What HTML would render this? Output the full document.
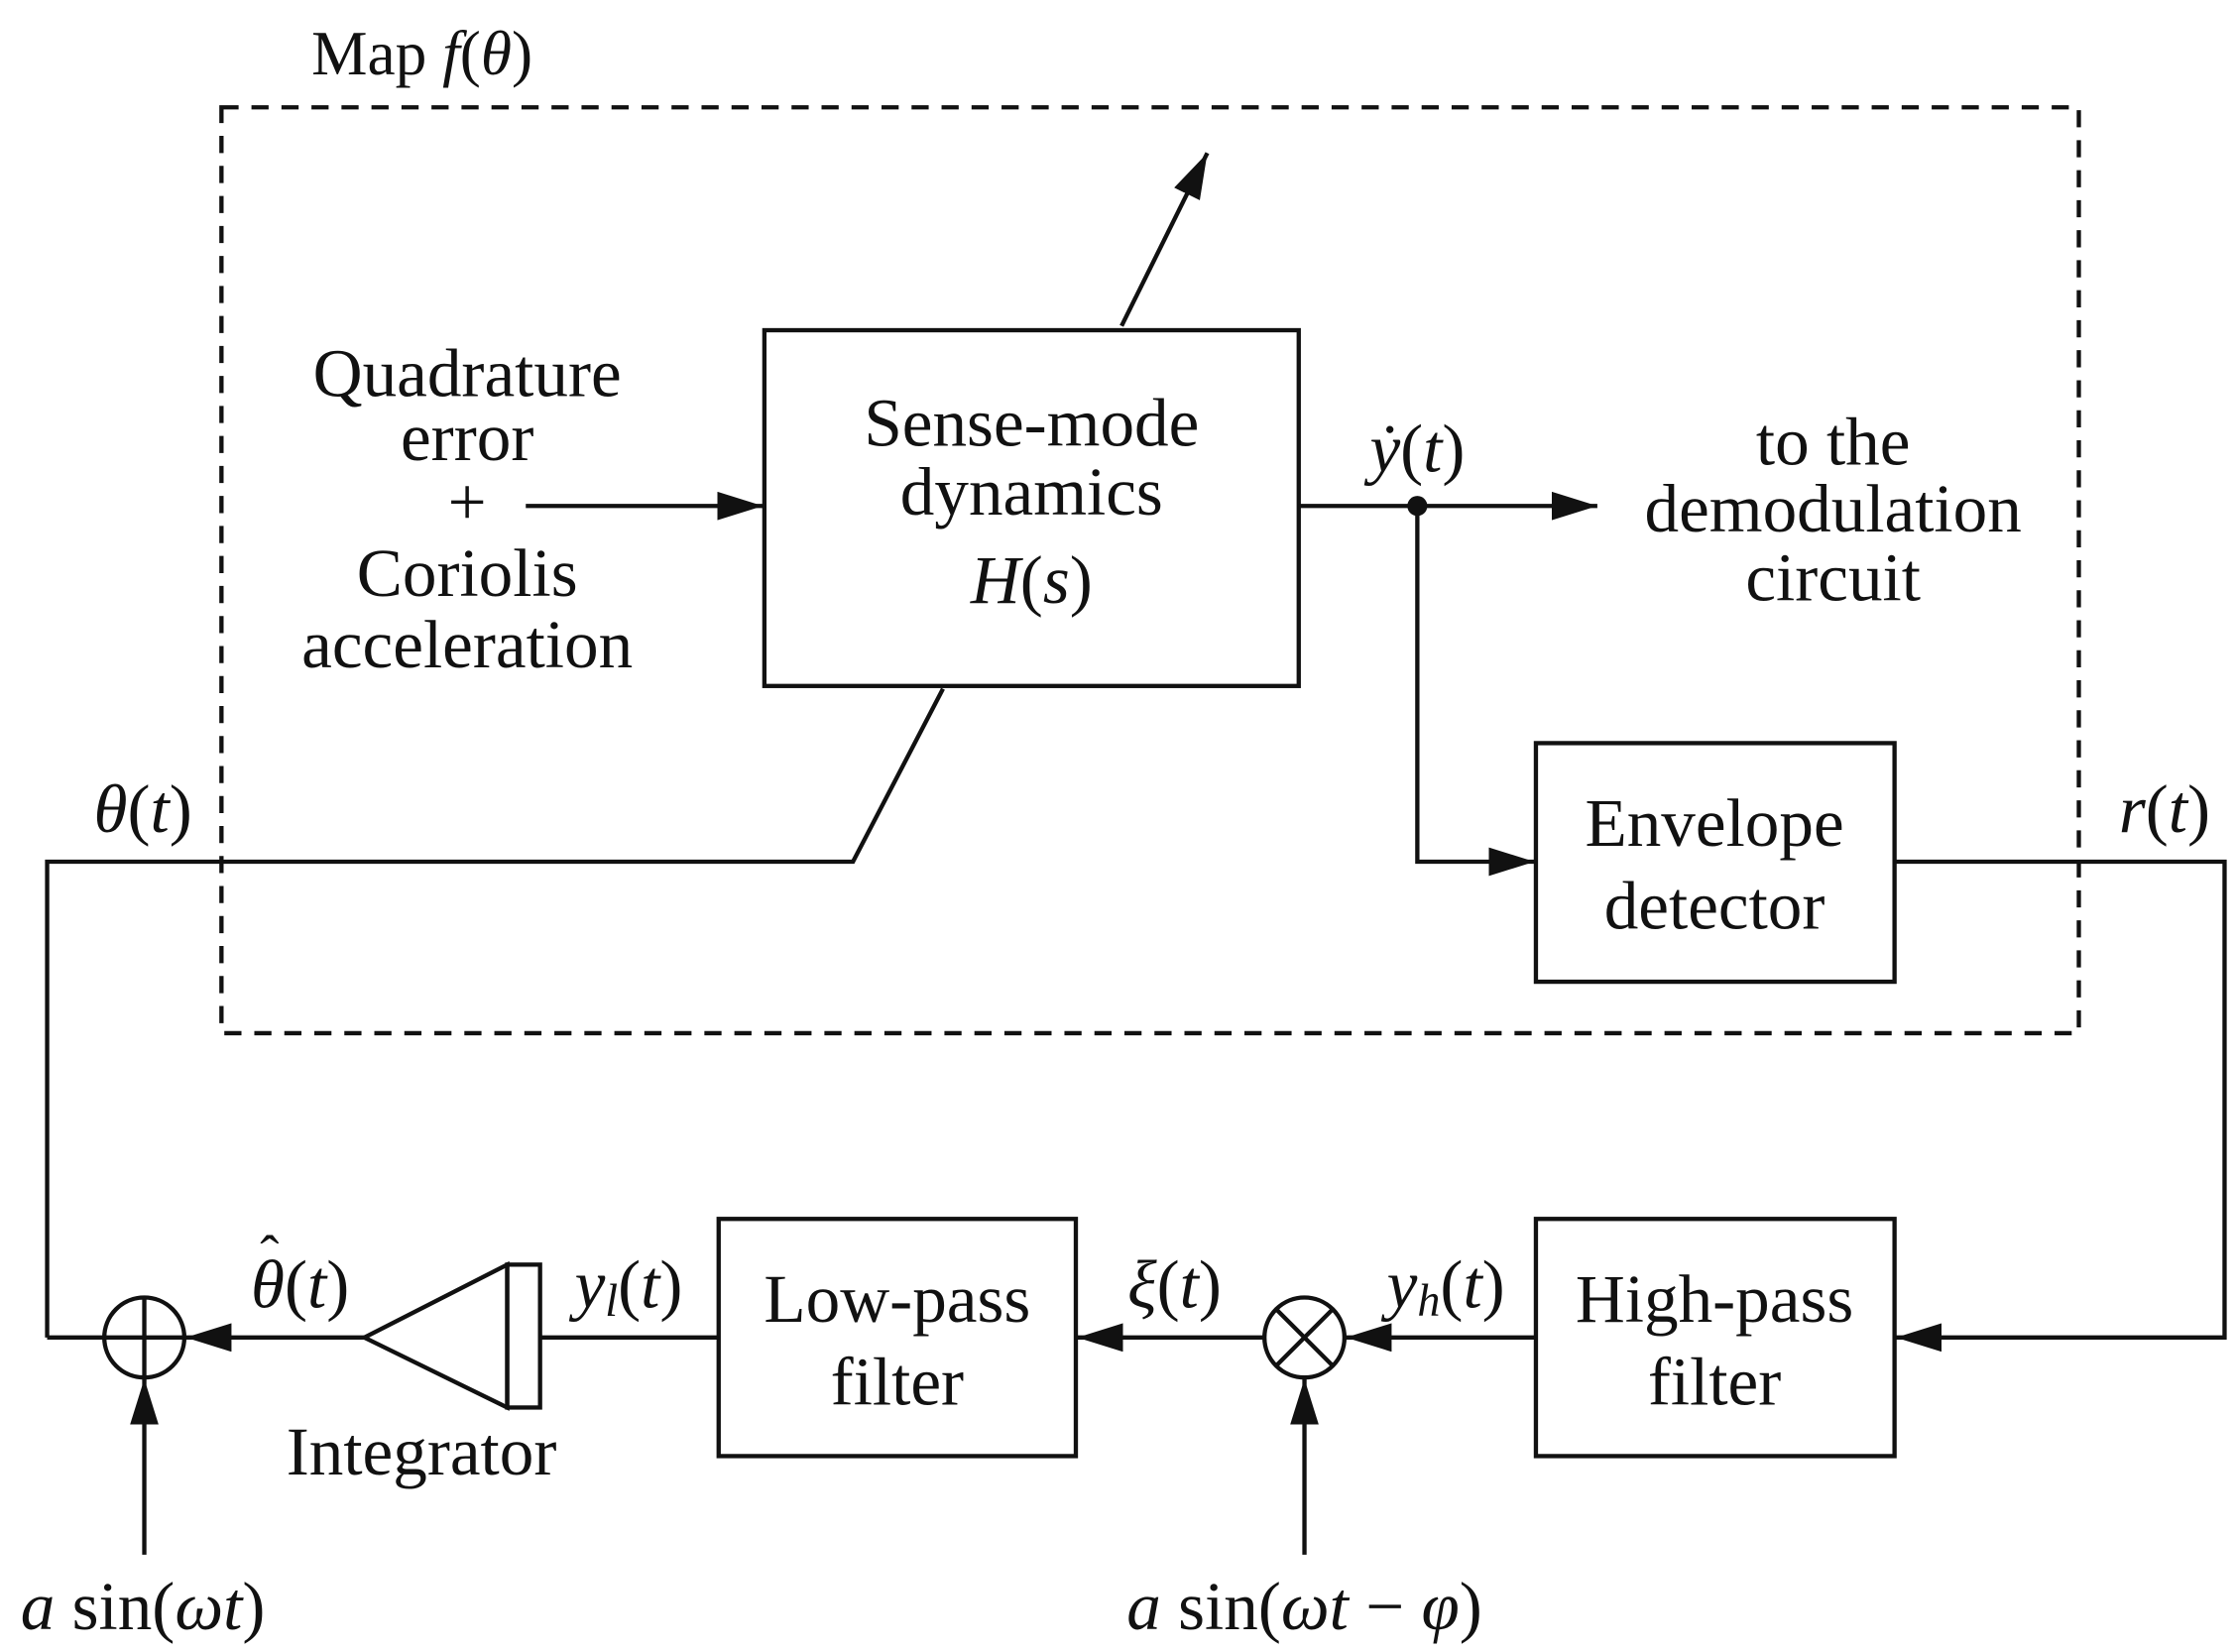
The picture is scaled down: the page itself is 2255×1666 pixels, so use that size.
<!DOCTYPE html>
<html><head><meta charset="utf-8"><style>
html,body{margin:0;padding:0;background:#fff;}
svg{display:block;}
text{font-family:"Liberation Serif",serif;fill:#111;}
.t{font-size:48px;text-anchor:middle;}
.i{font-style:italic;}
</style></head><body>
<svg width="2255" height="1666" viewBox="0 0 1565 1156" xmlns="http://www.w3.org/2000/svg">
<defs>
<marker id="b" viewBox="0 0 10 10" refX="10" refY="5" markerWidth="32" markerHeight="20" markerUnits="userSpaceOnUse" orient="auto" preserveAspectRatio="none">
<path d="M0,0 L10,5 L0,10 z" fill="#111"/></marker>
</defs>
<g stroke="#111" stroke-width="3" fill="none">
<rect x="155" y="75" width="1300" height="648" stroke-dasharray="12,9"/>
<rect x="535" y="231" width="374" height="249"/>
<rect x="1075" y="520" width="251" height="167"/>
<rect x="1075" y="853" width="251" height="166"/>
<rect x="503" y="853" width="250" height="166"/>
<line x1="785" y1="228" x2="845" y2="107" marker-end="url(#b)"/>
<polyline points="33,936 33,603 597,603 660,482"/>
<line x1="368" y1="354" x2="534" y2="354" marker-end="url(#b)"/>
<line x1="909" y1="354" x2="1118" y2="354" marker-end="url(#b)"/>
<polyline points="992,354 992,603 1074,603" marker-end="url(#b)"/>
<polyline points="1326,603 1557,603 1557,936 1327,936" marker-end="url(#b)"/>
<line x1="1075" y1="936" x2="942" y2="936" marker-end="url(#b)"/>
<circle cx="913" cy="936" r="28"/>
<line x1="893" y1="916" x2="933" y2="956"/><line x1="933" y1="916" x2="893" y2="956"/>
<line x1="913" y1="1088" x2="913" y2="965" marker-end="url(#b)"/>
<line x1="885" y1="936" x2="754" y2="936" marker-end="url(#b)"/>
<line x1="503" y1="936" x2="378" y2="936"/>
<rect x="355" y="885" width="23" height="100"/>
<polygon points="355,885 355,985 255,936"/>
<line x1="255" y1="936" x2="130" y2="936" marker-end="url(#b)"/>
<line x1="33" y1="936" x2="73" y2="936"/>
<circle cx="101" cy="936" r="28"/>
<line x1="73" y1="936" x2="129" y2="936"/><line x1="101" y1="908" x2="101" y2="964"/>
<line x1="101" y1="1088" x2="101" y2="965" marker-end="url(#b)"/>
</g>
<circle cx="992" cy="354" r="7" fill="#111"/>
<text x="218" y="52" style="font-size:44px">Map <tspan class="i">f</tspan>(<tspan class="i">θ</tspan>)</text>
<text class="t" x="722" y="312">Sense-mode</text>
<text class="t" x="722" y="360">dynamics</text>
<text class="t" x="722" y="422"><tspan class="i">H</tspan>(<tspan class="i">s</tspan>)</text>
<text class="t" x="327" y="277">Quadrature</text>
<text class="t" x="327" y="322">error</text>
<text class="t" x="327" y="367">+</text>
<text class="t" x="327" y="417">Coriolis</text>
<text class="t" x="327" y="467">acceleration</text>
<text class="t" x="992" y="330"><tspan class="i">ẏ</tspan>(<tspan class="i">t</tspan>)</text>
<text class="t" x="1283" y="325">to the</text>
<text class="t" x="1283" y="372">demodulation</text>
<text class="t" x="1283" y="420">circuit</text>
<text class="t" x="1200" y="592">Envelope</text>
<text class="t" x="1200" y="650">detector</text>
<text class="t" x="100" y="582"><tspan class="i">θ</tspan>(<tspan class="i">t</tspan>)</text>
<text class="t" x="1515" y="582"><tspan class="i">r</tspan>(<tspan class="i">t</tspan>)</text>
<text class="t" x="1200" y="925">High-pass</text>
<text class="t" x="1200" y="983">filter</text>
<text class="t" x="628" y="925">Low-pass</text>
<text class="t" x="628" y="983">filter</text>
<text class="t" x="1012" y="915"><tspan class="i">y<tspan style="font-size:32px" dy="6">h</tspan></tspan><tspan dy="-6">(</tspan><tspan class="i">t</tspan>)</text>
<text class="t" x="822" y="915"><tspan class="i">ξ</tspan>(<tspan class="i">t</tspan>)</text>
<text class="t" x="440" y="915"><tspan class="i">y<tspan style="font-size:32px" dy="6">l</tspan></tspan><tspan dy="-6">(</tspan><tspan class="i">t</tspan>)</text>
<text class="t" x="210" y="915"><tspan class="i">θ</tspan>(<tspan class="i">t</tspan>)</text>
<text x="182" y="892" style="font-size:40px">ˆ</text>
<text class="t" x="295" y="1032">Integrator</text>
<text class="t" x="100" y="1140"><tspan class="i">a</tspan> sin(<tspan class="i">ωt</tspan>)</text>
<text class="t" x="913" y="1140"><tspan class="i">a</tspan> sin(<tspan class="i">ωt</tspan> − <tspan class="i">φ</tspan>)</text>
</svg>
</body></html>
